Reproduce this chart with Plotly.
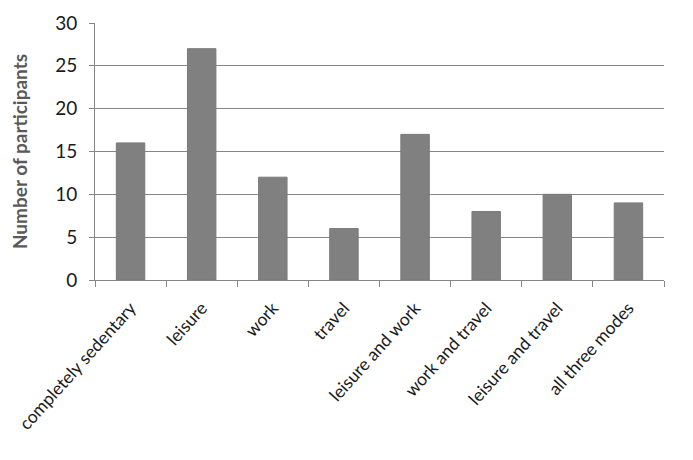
import plotly.graph_objects as go

categories = ["completely sedentary", "leisure", "work", "travel",
              "leisure and work", "work and travel", "leisure and travel", "all three modes"]
participants = [16, 27, 12, 6, 17, 8, 10, 9]
y_ticks = [0, 5, 10, 15, 20, 25, 30]

fig = go.Figure(go.Bar(
    x=categories,
    y=participants,
    marker_color="#808080",
    marker_line_color="#7a7a7a",
    marker_line_width=1,
))

# page body has an 8px margin, so the plot box is shifted up/left by 8px here
fig.update_layout(
    width=693,
    height=460,
    margin=dict(l=87, r=37, t=15, b=188),
    paper_bgcolor="white",
    plot_bgcolor="white",
    bargap=0.6,
    showlegend=False,
    font=dict(family="Lato", color="#1a1a1a"),
)

fig.update_xaxes(
    automargin=False,
    tickangle=-48,
    tickfont=dict(size=17.5, color="#1a1a1a"),
    ticklabelstandoff=10,
    showline=True,
    linecolor="#868686",
    linewidth=1,
    ticks="outside",
    tickson="boundaries",
    ticklen=6,
    tickcolor="#868686",
    showgrid=False,
)

fig.update_yaxes(
    automargin=False,
    range=[0, 30],
    tickvals=y_ticks,
    tickfont=dict(size=19, color="#1a1a1a"),
    ticklabelstandoff=8,
    showline=True,
    linecolor="#868686",
    linewidth=1,
    ticks="outside",
    ticklen=5,
    tickcolor="#868686",
    showgrid=True,
    gridcolor="#868686",
    gridwidth=1,
    zeroline=False,
    title=dict(text="<b>Number of participants</b>", font=dict(size=19, color="#595959"), standoff=32),
)

fig.write_html("out.html")
